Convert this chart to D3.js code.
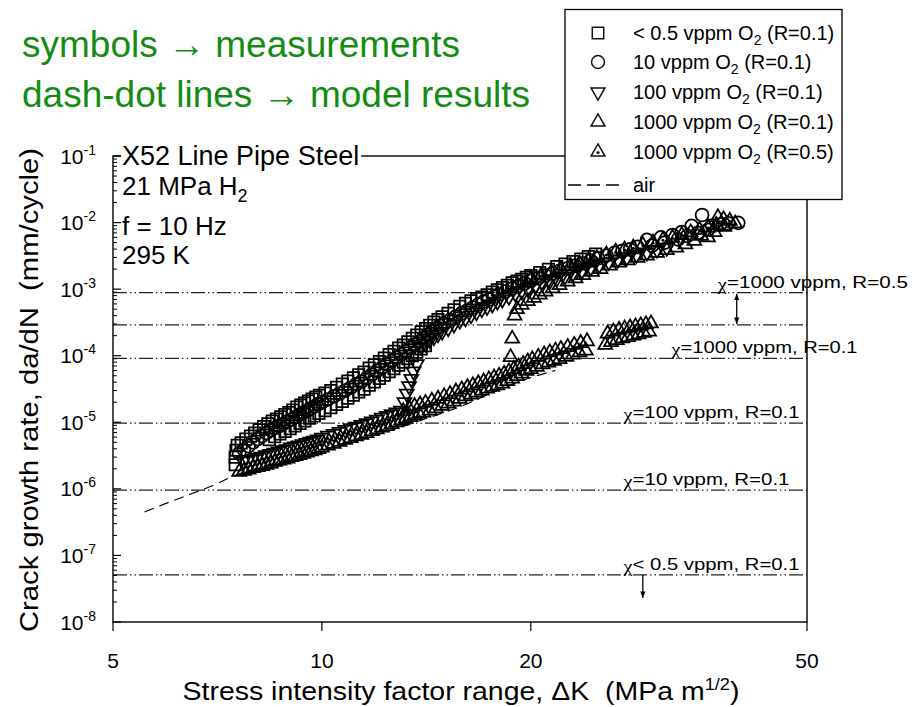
<!DOCTYPE html>
<html>
<head>
<meta charset="utf-8">
<script src="https://cdn.jsdelivr.net/npm/d3@7"></script>
<style>
  body { margin: 0; background: #fff; }
  svg text { font-family: "Liberation Sans", Arial, sans-serif; fill: #000; }
</style>
</head>
<body>
<div id="chart"></div>
<script>
// Values: [stress intensity range (MPa m^1/2), da/dN (mm/cycle)]
const xTickValues = [5, 10, 20, 50];
const yTickExponents = [-1, -2, -3, -4, -5, -6, -7, -8];

// < 0.5 vppm O2 (R=0.1) - squares (two specimens)
const squaresLowO2 = [
  [7.5,2.3e-6],[7.5,3.0e-6],[7.52,3.8e-6],[7.55,4.5e-6],[7.65,4.9e-6],[7.77,5.6e-6],[7.89,6.2e-6],
  [8.0,6.9e-6],[8.12,7.7e-6],[8.24,8.6e-6],[8.36,9.5e-6],[8.48,1.04e-5],[8.6,1.12e-5],[8.72,1.21e-5],
  [8.84,1.3e-5],[8.96,1.4e-5],[9.08,1.52e-5],[9.2,1.69e-5],[9.32,1.82e-5],[9.44,1.95e-5],[9.56,2.08e-5],
  [9.68,2.24e-5],[9.8,2.4e-5],[9.92,2.55e-5],[10.1,2.75e-5],[10.3,3.0e-5],[10.5,3.35e-5],[10.7,3.75e-5],
  [10.9,4.15e-5],[11.1,4.65e-5],[11.3,5.15e-5],[11.5,5.7e-5],[11.7,6.5e-5],[11.9,7.3e-5],[12.1,8.2e-5],
  [12.3,9.2e-5],[12.5,1.04e-4],[12.7,1.16e-4],[12.9,1.3e-4],[13.1,1.45e-4],[13.3,1.62e-4],[13.5,1.82e-4],
  [13.7,2.04e-4],[13.9,2.28e-4],[14.1,2.55e-4],[14.3,2.85e-4],[14.5,3.2e-4],[14.7,3.5e-4],[14.9,3.85e-4],
  [15.2,4.35e-4],[15.5,4.9e-4],[15.8,5.5e-4],[16.1,6.1e-4],[16.4,6.7e-4],[16.7,7.2e-4],[17.0,7.6e-4],
  [17.3,8.2e-4],[17.6,9.0e-4],[17.9,9.8e-4],[18.2,1.06e-3],[18.5,1.14e-3],[18.8,1.24e-3],[19.1,1.32e-3],
  [19.4,1.41e-3],[19.7,1.5e-3],[20.0,1.6e-3],[20.6,1.77e-3],[21.2,1.98e-3],[21.8,2.18e-3],[22.4,2.38e-3],
  [23.0,2.6e-3],[23.6,2.83e-3],[24.2,3.08e-3],[24.8,3.35e-3],
  [8.4,5.5e-6],[8.55,6.1e-6],[8.7,6.7e-6],[8.85,7.3e-6],[9.0,8.0e-6],[9.15,8.8e-6],[9.3,9.6e-6],
  [9.45,1.05e-5],[9.6,1.15e-5],[9.75,1.25e-5],[9.9,1.36e-5],[10.1,1.5e-5],[10.3,1.66e-5],[10.5,1.85e-5],
  [10.7,2.05e-5],[10.9,2.3e-5],[11.1,2.55e-5],[11.3,2.85e-5],[11.5,3.15e-5],[11.7,3.6e-5],[11.9,4.05e-5],
  [12.1,4.55e-5],[12.3,5.1e-5],[12.5,5.75e-5],[12.7,6.4e-5],[12.9,7.2e-5],[13.1,8.0e-5],[13.3,9.0e-5],
  [13.5,1.0e-4],[13.7,1.13e-4],[13.9,1.26e-4],[14.1,1.41e-4]
];

// 10 vppm O2 (R=0.1) - circles
const circles10 = [
  [7.6,3.4e-6],[7.72,3.9e-6],[7.84,4.4e-6],[7.96,5.0e-6],[8.08,5.6e-6],[8.2,6.2e-6],[8.32,6.9e-6],
  [8.44,7.6e-6],[8.56,8.2e-6],[8.68,8.8e-6],[8.8,9.5e-6],[8.92,1.03e-5],[9.04,1.1e-5],[9.16,1.2e-5],
  [9.28,1.3e-5],[9.4,1.4e-5],[9.52,1.5e-5],[9.64,1.62e-5],[9.76,1.74e-5],[9.88,1.88e-5],[10.0,2.0e-5],
  [10.2,2.2e-5],[10.4,2.45e-5],[10.6,2.7e-5],[10.8,3.0e-5],[11.0,3.3e-5],[11.2,3.7e-5],[11.4,4.1e-5],
  [11.6,4.6e-5],[11.8,5.2e-5],[12.0,5.9e-5],[12.2,6.6e-5],[12.4,7.4e-5],[12.6,8.3e-5],[12.8,9.3e-5],
  [13.0,1.04e-4],[13.2,1.16e-4],[13.4,1.3e-4],[13.6,1.45e-4],[13.8,1.62e-4],[14.0,1.82e-4],[14.2,2.05e-4],
  [14.4,2.3e-4],[14.6,2.55e-4],[14.8,2.8e-4],[15.0,3.05e-4],[15.3,3.45e-4],[15.6,3.9e-4],[15.9,4.35e-4],
  [16.2,4.8e-4],[16.5,5.3e-4],[16.8,5.9e-4],[17.1,6.5e-4],[17.4,7.0e-4],[17.7,7.7e-4],[18.0,8.4e-4],
  [18.4,9.3e-4],[18.8,1.02e-3],[19.2,1.12e-3],[19.6,1.22e-3],[20.0,1.33e-3],[20.5,1.46e-3],[21.0,1.6e-3],
  [21.5,1.73e-3],[22.0,1.88e-3],[22.6,2.05e-3],[23.2,2.25e-3],[23.8,2.45e-3],[24.4,2.68e-3],[25.0,2.9e-3],
  [25.7,3.2e-3],[26.4,3.5e-3],[27.1,3.75e-3],[27.8,3.95e-3],[28.5,4.3e-3],[29.4,5.5e-3],[29.9,4.5e-3],
  [30.8,6.0e-3],[31.2,5.0e-3],[32.0,6.5e-3],[32.6,5.6e-3],[33.0,7.2e-3],[33.6,6.3e-3],[34.1,8.9e-3],
  [34.8,7.0e-3],[35.3,1.3e-2],[36.0,7.8e-3],[36.5,9.0e-3],[37.5,9.4e-3],[38.5,9.7e-3],[39.8,9.9e-3]
];

// 100 vppm O2 (R=0.1) - down triangles
const downTri100 = [
  [7.7,2.6e-6],[7.82,2.7e-6],[7.94,2.8e-6],[8.06,2.95e-6],[8.18,3.05e-6],[8.3,3.2e-6],[8.42,3.35e-6],
  [8.54,3.5e-6],[8.66,3.65e-6],[8.78,3.8e-6],[8.9,3.95e-6],[9.02,4.2e-6],[9.14,4.35e-6],[9.26,4.5e-6],
  [9.38,4.7e-6],[9.5,4.9e-6],[9.62,5.1e-6],[9.74,5.3e-6],[9.86,5.55e-6],[10.0,5.9e-6],[10.2,6.3e-6],
  [10.4,6.7e-6],[10.6,7.2e-6],[10.8,7.7e-6],[11.0,8.2e-6],[11.2,8.6e-6],[11.4,9.1e-6],[11.6,9.7e-6],
  [11.8,1.03e-5],[12.0,1.1e-5],[12.2,1.17e-5],[12.4,1.25e-5],[12.6,1.33e-5],[12.8,1.41e-5],[13.0,1.5e-5],
  [13.15,2.0e-5],[13.25,2.7e-5],[13.35,3.5e-5],[13.45,4.5e-5],[13.55,5.8e-5],[13.7,7.5e-5],
  [13.9,1.37e-4],[14.1,1.53e-4],[14.3,1.72e-4],[14.5,1.9e-4],[14.7,2.1e-4],[14.9,2.3e-4],[15.2,2.6e-4],
  [15.5,2.95e-4],[15.8,3.35e-4],[16.1,3.65e-4],[16.4,4.05e-4],[16.7,4.5e-4],[17.0,5.0e-4],[17.3,5.4e-4],
  [17.6,5.9e-4],[17.9,6.5e-4],[18.2,7.0e-4],[18.6,7.7e-4],[19.0,8.6e-4],[19.4,9.4e-4],[19.8,1.01e-3],
  [20.3,1.11e-3],[20.8,1.22e-3],[21.3,1.33e-3],[21.8,1.44e-3],[22.4,1.56e-3],[23.0,1.72e-3],[23.7,1.9e-3],
  [24.4,2.1e-3],[25.1,2.3e-3],[25.9,2.55e-3],[26.7,2.8e-3],[27.5,3.0e-3],[28.4,3.3e-3],[29.4,3.55e-3],
  [30.4,3.9e-3],[31.4,4.2e-3]
];

// 1000 vppm O2 (R=0.1) - up triangles (lower band, transition, upper band)
const upTri1000 = [
  [7.6,1.8e-6],[7.72,1.87e-6],[7.84,1.95e-6],[7.96,2.05e-6],[8.08,2.12e-6],[8.2,2.2e-6],[8.32,2.3e-6],
  [8.44,2.4e-6],[8.56,2.55e-6],[8.68,2.65e-6],[8.8,2.75e-6],[8.92,2.85e-6],[9.04,3.0e-6],[9.16,3.1e-6],
  [9.28,3.2e-6],[9.4,3.35e-6],[9.52,3.5e-6],[9.64,3.65e-6],[9.76,3.8e-6],[9.88,3.95e-6],[10.0,4.15e-6],
  [10.2,4.45e-6],[10.4,4.75e-6],[10.6,5.1e-6],[10.8,5.45e-6],[11.0,5.8e-6],[11.2,6.15e-6],[11.4,6.5e-6],
  [11.6,6.9e-6],[11.8,7.35e-6],[12.0,7.8e-6],[12.2,8.3e-6],[12.4,8.8e-6],[12.6,9.35e-6],[12.8,9.95e-6],
  [13.0,1.06e-5],[13.2,1.13e-5],[13.4,1.2e-5],[13.6,1.27e-5],[13.8,1.34e-5],[14.0,1.4e-5],[14.3,1.5e-5],
  [14.6,1.62e-5],[14.9,1.76e-5],[15.2,1.9e-5],[15.5,2.05e-5],[15.8,2.25e-5],[16.1,2.45e-5],[16.4,2.6e-5],
  [16.7,2.8e-5],[17.0,3.0e-5],[17.3,3.2e-5],[17.6,3.4e-5],[17.9,3.6e-5],[18.2,3.8e-5],[18.5,4.15e-5],
  [18.8,4.55e-5],[19.1,4.95e-5],[19.4,5.4e-5],[19.7,5.9e-5],[20.0,6.3e-5],[20.4,6.8e-5],[20.8,7.4e-5],
  [21.2,7.9e-5],[21.6,8.4e-5],[22.0,8.9e-5],[22.5,9.6e-5],[23.0,1.04e-4],[23.5,1.12e-4],[24.0,1.19e-4],
  [25.6,1.45e-4],[26.1,1.6e-4],[26.6,1.72e-4],[27.1,1.82e-4],[27.6,1.9e-4],[28.1,2.0e-4],[28.6,2.1e-4],
  [29.1,2.2e-4],[29.6,2.3e-4],
  [13.1,1.47e-5],[13.35,1.62e-5],[13.6,1.75e-5],[13.85,1.85e-5],[14.1,1.95e-5],[14.4,2.1e-5],[14.7,2.25e-5],
  [15.0,2.45e-5],[15.3,2.65e-5],[15.6,2.9e-5],[15.9,3.1e-5],[16.2,3.35e-5],[16.5,3.6e-5],[16.8,3.85e-5],
  [17.1,4.1e-5],[17.4,4.4e-5],[17.7,4.7e-5],[18.0,5.0e-5],[18.3,5.35e-5],[18.6,5.8e-5],[18.9,6.3e-5],
  [19.2,6.9e-5],[19.5,7.5e-5],[19.8,8.2e-5],[20.1,8.8e-5],[20.5,9.6e-5],[20.9,1.04e-4],[21.3,1.12e-4],
  [21.7,1.19e-4],[22.1,1.26e-4],[22.6,1.35e-4],[23.1,1.45e-4],[23.6,1.55e-4],[24.1,1.65e-4],[25.8,2.15e-4],
  [26.3,2.3e-4],[26.8,2.45e-4],[27.3,2.55e-4],[27.8,2.65e-4],[28.3,2.75e-4],[28.8,2.85e-4],[29.3,2.95e-4],
  [29.8,3.05e-4],
  [18.7,9.5e-5],[18.8,1.8e-4],[18.95,4.0e-4],
  [19.1,5.0e-4],[19.4,5.8e-4],[19.8,6.6e-4],[20.2,7.4e-4],[20.6,8.3e-4],[21.0,9.2e-4],[21.5,1.03e-3],
  [22.0,1.15e-3],[22.6,1.3e-3],[23.2,1.45e-3],[23.8,1.62e-3],[24.5,1.82e-3],[25.2,2.0e-3],[26.0,2.25e-3],
  [26.8,2.5e-3],[27.6,2.7e-3],[28.5,2.95e-3],[29.4,3.2e-3],[30.4,3.5e-3],[31.4,3.85e-3],[32.4,4.2e-3],
  [33.4,4.7e-3],[34.4,5.3e-3],[35.2,6.3e-3],[36.0,6.0e-3],[36.8,7.2e-3],[37.2,1.2e-2],[38.0,8.6e-3]
];

// 1000 vppm O2 (R=0.5) - triangles with centre dot
const dotTri1000R05 = [
  [20.0,1.42e-3],[20.7,1.6e-3],[21.4,1.78e-3],[22.1,1.98e-3],[22.8,2.2e-3],[23.5,2.42e-3],[24.2,2.68e-3],
  [24.9,2.95e-3],[25.7,3.3e-3],[26.5,3.65e-3],[27.3,3.95e-3],[28.1,4.2e-3],[29.0,4.6e-3],[30.0,5.0e-3],
  [31.0,5.5e-3],[32.0,5.9e-3],[33.0,6.5e-3],[34.0,7.1e-3],[35.0,7.8e-3],[36.0,8.4e-3],[37.0,9.2e-3],
  [37.9,1.12e-2],[38.7,1.06e-2],[39.4,9.7e-3]
];

// air - dashed curve
const airCurve = [
  [5.55,4.5e-7],[6.0,6.2e-7],[6.5,8.5e-7],[7.0,1.15e-6],[7.5,1.6e-6],[8.0,2.0e-6],[9.0,2.8e-6],
  [10,3.8e-6],[12,6.5e-6],[14,1.1e-5],[16,1.8e-5],[18,3.1e-5],[20,4.7e-5],[21.7,6.0e-5]
];

// model results (dash-dot levels) and their labels
const modelLevels = [8.85e-4, 2.9e-4, 9.1e-5, 9.7e-6, 9.6e-7, 5.1e-8];
const modelLabels = ["=1000 vppm, R=0.5", "=1000 vppm, R=0.1", "=100 vppm, R=0.1", "=10 vppm, R=0.1", "< 0.5 vppm, R=0.1"];

const legendNames = ["< 0.5 vppm O", "10 vppm O", "100 vppm O", "1000 vppm O", "1000 vppm O"];
const legendRatios = [" (R=0.1)", " (R=0.1)", " (R=0.1)", " (R=0.1)", " (R=0.5)"];

// ---------------- layout ----------------
const W = 914, H = 707;
const plot = { left: 113, right: 807, top: 156, bottom: 622 };

const svg = d3.select("#chart").append("svg")
  .attr("width", W).attr("height", H);

const defs = svg.append("defs");
defs.append("marker").attr("id", "ahead")
  .attr("viewBox", "0 0 10 10").attr("refX", 10).attr("refY", 5)
  .attr("markerWidth", 5).attr("markerHeight", 7).attr("orient", "auto-start-reverse")
  .append("path").attr("d", "M0,1L10,5L0,9Z").attr("fill", "#000");

const x = d3.scaleLog().domain([5, 50]).range([plot.left, plot.right]);
const y = d3.scaleLog().domain([1e-8, 1e-1]).range([plot.bottom, plot.top]);

// green notes
const notes = ["symbols \u2192 measurements", "dash-dot lines \u2192 model results"];
svg.selectAll(".note").data(notes).join("text")
  .attr("class", "note")
  .attr("x", 22).attr("y", (d, i) => 57 + i * 50)
  .style("font-size", "37px").style("fill", "#148c14")
  .text(d => d);

// model dash-dot lines
svg.selectAll(".model").data(modelLevels).join("line")
  .attr("x1", plot.left).attr("x2", plot.right)
  .attr("y1", d => y(d)).attr("y2", d => y(d))
  .attr("stroke", "#222").attr("stroke-width", 1.2)
  .attr("stroke-dasharray", "14,3,1.5,3,1.5,3");

// model labels
const labelK = [37.2, 31.9, 27.2, 27.2, 27.2];
const labelLevel = [modelLevels[0], modelLevels[2], modelLevels[3], modelLevels[4], modelLevels[5]];
const labelLen = [190, 186, 176, 166, 176];
modelLabels.forEach((t, i) => {
  const txt = svg.append("text")
    .attr("x", x(labelK[i])).attr("y", y(labelLevel[i]) - 5)
    .style("font-size", "17px")
    .attr("textLength", labelLen[i]).attr("lengthAdjust", "spacingAndGlyphs");
  txt.append("tspan").attr("dy", 2).style("font-family", "'Liberation Serif', serif").text("\u03c7");
  txt.append("tspan").attr("dy", -2).text(t);
});

// arrows
svg.append("line")
  .attr("x1", x(39.6)).attr("x2", x(39.6))
  .attr("y1", y(modelLevels[0]) + 1).attr("y2", y(modelLevels[1]) - 1)
  .attr("stroke", "#000").attr("stroke-width", 1.3)
  .attr("marker-start", "url(#ahead)").attr("marker-end", "url(#ahead)");
svg.append("line")
  .attr("x1", x(29)).attr("x2", x(29))
  .attr("y1", y(modelLevels[5])).attr("y2", y(2.3e-8))
  .attr("stroke", "#000").attr("stroke-width", 1.3)
  .attr("marker-end", "url(#ahead)");

// air curve
const line = d3.line()
  .x(d => x(d[0])).y(d => y(d[1]))
  .curve(d3.curveMonotoneX);
svg.append("path").datum(airCurve)
  .attr("d", line).attr("fill", "none")
  .attr("stroke", "#000").attr("stroke-width", 1.2)
  .attr("stroke-dasharray", "10,6");

// markers
const tri = d3.symbol(d3.symbolTriangle, 84);
const shapes = {
  square: d3.symbol(d3.symbolSquare, 130)(),
  circle: d3.symbol(d3.symbolCircle, 132)(),
  up: tri(),
  down: tri()
};

function drawSeries(data, shape, rot, dotted) {
  const g = svg.append("g");
  const pts = g.selectAll("g").data(data).join("g")
    .attr("transform", d => `translate(${x(d[0])},${y(d[1])}) rotate(${rot})`);
  pts.append("path")
    .attr("d", shapes[shape])
    .attr("fill", "none").attr("stroke", "#000").attr("stroke-width", 1.75);
  if (dotted) {
    pts.append("circle").attr("cx", 0).attr("cy", 0.5).attr("r", 1.5).attr("fill", "#000");
  }
}

drawSeries(upTri1000, "up", 0, false);
drawSeries(downTri100, "down", 180, false);
drawSeries(squaresLowO2, "square", 0, false);
drawSeries(circles10, "circle", 0, false);
drawSeries(dotTri1000R05, "up", 0, true);

// frame
svg.append("rect")
  .attr("x", plot.left).attr("y", plot.top)
  .attr("width", plot.right - plot.left).attr("height", plot.bottom - plot.top)
  .attr("fill", "none").attr("stroke", "#000").attr("stroke-width", 1.4);

// y ticks (inward), major and minor
const yAxisG = svg.append("g");
yTickExponents.forEach(e => {
  const v = Math.pow(10, e);
  yAxisG.append("line").attr("x1", plot.left).attr("x2", plot.left + 8)
    .attr("y1", y(v)).attr("y2", y(v)).attr("stroke", "#000").attr("stroke-width", 1.2);
  if (e > -8) {
    d3.range(2, 10).forEach(m => {
      const mv = m * Math.pow(10, e - 1);
      yAxisG.append("line").attr("x1", plot.left).attr("x2", plot.left + 4)
        .attr("y1", y(mv)).attr("y2", y(mv)).attr("stroke", "#000").attr("stroke-width", 1);
    });
  }
  const t = yAxisG.append("text")
    .attr("x", 96).attr("y", y(v) + 7.5)
    .attr("text-anchor", "end").style("font-size", "21px");
  t.append("tspan").text("10");
  t.append("tspan").attr("dy", -9).style("font-size", "14px").text(e);
});

// x ticks (outward)
const xAxisG = svg.append("g");
xTickValues.forEach(v => {
  xAxisG.append("line").attr("x1", x(v)).attr("x2", x(v))
    .attr("y1", plot.bottom).attr("y2", plot.bottom + 9)
    .attr("stroke", "#000").attr("stroke-width", 1.2);
  xAxisG.append("text").attr("x", x(v)).attr("y", plot.bottom + 46)
    .attr("text-anchor", "middle").style("font-size", "21px").text(v);
});

// axis titles
const xTitle = svg.append("text")
  .attr("x", 461).attr("y", 700).attr("text-anchor", "middle")
  .style("font-size", "25px").style("white-space", "pre")
  .attr("textLength", 557).attr("lengthAdjust", "spacingAndGlyphs");
xTitle.append("tspan").text("Stress intensity factor range, \u0394K  (MPa m");
xTitle.append("tspan").attr("dy", -10).style("font-size", "16px").text("1/2");
xTitle.append("tspan").attr("dy", 10).text(")");

svg.append("text")
  .attr("transform", "translate(38,390) rotate(-90)")
  .attr("text-anchor", "middle")
  .style("font-size", "25px").style("white-space", "pre")
  .attr("textLength", 484).attr("lengthAdjust", "spacingAndGlyphs")
  .text("Crack growth rate, da/dN  (mm/cycle)");

// specimen info, first line sits on the top frame
const infoTitle = svg.append("text")
  .attr("x", 122).attr("y", 165).style("font-size", "27px")
  .text("X52 Line Pipe Steel");
const bb = infoTitle.node().getBBox();
svg.insert("rect", () => infoTitle.node())
  .attr("x", bb.x - 1).attr("y", bb.y).attr("width", bb.width + 3).attr("height", bb.height)
  .attr("fill", "#fff");

const h2 = svg.append("text").attr("x", 122).attr("y", 195).style("font-size", "26px");
h2.append("tspan").text("21 MPa H");
h2.append("tspan").attr("dy", 7).style("font-size", "18px").text("2");
svg.append("text").attr("x", 122).attr("y", 235).style("font-size", "26px").text("f = 10 Hz");
svg.append("text").attr("x", 122).attr("y", 264).style("font-size", "26px").text("295 K");

// legend
const legend = svg.append("g");
legend.append("rect")
  .attr("x", 565).attr("y", 9.5).attr("width", 277).attr("height", 190)
  .attr("fill", "#fff").attr("stroke", "#000").attr("stroke-width", 1.3);

const rowY = [33, 62, 92, 122, 152];
const legendShapes = [["square", 0, false], ["circle", 0, false], ["down", 180, false], ["up", 0, false], ["up", 0, true]];
legendNames.forEach((name, i) => {
  const [shape, rot, dotted] = legendShapes[i];
  const g = legend.append("g").attr("transform", `translate(598,${rowY[i]}) rotate(${rot})`);
  g.append("path").attr("d", shapes[shape]).attr("fill", "none")
    .attr("stroke", "#111").attr("stroke-width", 1.5);
  if (dotted) g.append("circle").attr("cx", 0).attr("cy", 0.5).attr("r", 1.6).attr("fill", "#111");

  const t = legend.append("text").attr("x", 633).attr("y", rowY[i] + 7)
    .style("font-size", "20px").style("white-space", "pre");
  t.append("tspan").text(name);
  t.append("tspan").attr("dy", 5).style("font-size", "14px").text("2");
  t.append("tspan").attr("dy", -5).text(legendRatios[i]);
});
legend.append("line")
  .attr("x1", 568).attr("x2", 622).attr("y1", 185).attr("y2", 185)
  .attr("stroke", "#000").attr("stroke-width", 1.3).attr("stroke-dasharray", "13,6");
legend.append("text").attr("x", 633).attr("y", 192).style("font-size", "20px").text("air");
</script>
</body>
</html>
